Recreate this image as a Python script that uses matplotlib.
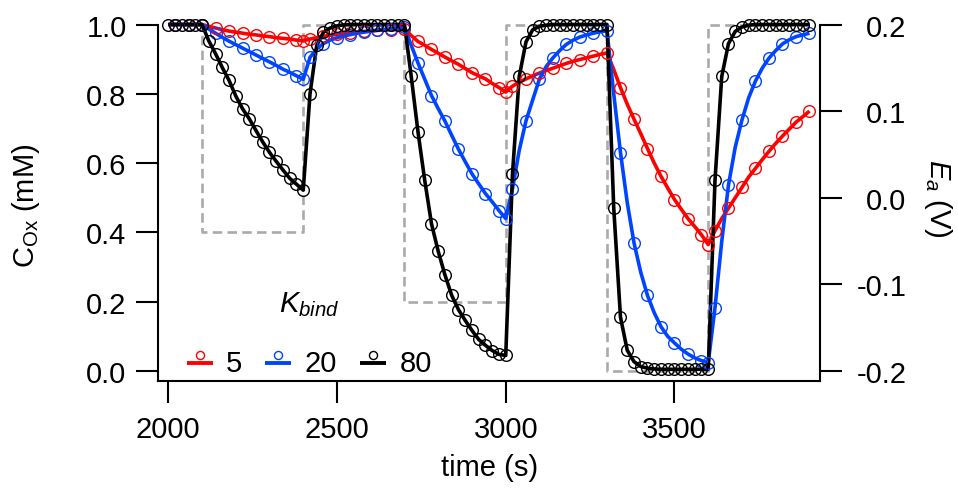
import matplotlib
matplotlib.use('Agg')
import matplotlib.pyplot as plt
from matplotlib.lines import Line2D
from matplotlib.legend_handler import HandlerBase

plt.rcParams['font.family'] = ['Liberation Sans', 'DejaVu Sans']
plt.rcParams['mathtext.fontset'] = 'custom'
plt.rcParams['mathtext.rm'] = 'Liberation Sans'
plt.rcParams['mathtext.it'] = 'Liberation Sans:italic'
plt.rcParams['mathtext.bf'] = 'Liberation Sans:bold'
plt.rcParams['axes.unicode_minus'] = False

# ---------------- data ----------------
time_s = [2000, 2020, 2040, 2060, 2080, 2100, 2120, 2140, 2160, 2180, 2200, 2220,
          2240, 2260, 2280, 2300, 2320, 2340, 2360, 2380, 2400, 2420, 2440, 2460,
          2480, 2500, 2520, 2540, 2560, 2580, 2600, 2620, 2640, 2660, 2680, 2700,
          2720, 2740, 2760, 2780, 2800, 2820, 2840, 2860, 2880, 2900, 2920, 2940,
          2960, 2980, 3000, 3020, 3040, 3060, 3080, 3100, 3120, 3140, 3160, 3180,
          3200, 3220, 3240, 3260, 3280, 3300, 3320, 3340, 3360, 3380, 3400, 3420,
          3440, 3460, 3480, 3500, 3520, 3540, 3560, 3580, 3600, 3620, 3640, 3660,
          3680, 3700, 3720, 3740, 3760, 3780, 3800, 3820, 3840, 3860, 3880, 3900]

c_k5 = [1.0, 1.0, 1.0, 1.0, 1.0, 1.0,
        0.995, 0.990, 0.985, 0.981, 0.978, 0.975, 0.972, 0.970, 0.967, 0.965, 0.962, 0.960, 0.958, 0.955, 0.953,
        0.958, 0.962, 0.966, 0.969, 0.972, 0.974, 0.976, 0.978, 0.980, 0.981, 0.983, 0.984, 0.985, 0.986, 0.987,
        0.968, 0.951, 0.940, 0.928, 0.917, 0.906, 0.895, 0.885, 0.873, 0.861, 0.852, 0.843, 0.830, 0.818, 0.805,
        0.822, 0.834, 0.843, 0.852, 0.860, 0.867, 0.874, 0.881, 0.888, 0.894, 0.899, 0.904, 0.909, 0.914, 0.918,
        0.870, 0.818, 0.770, 0.727, 0.685, 0.642, 0.600, 0.562, 0.528, 0.495, 0.467, 0.440, 0.417, 0.393, 0.365,
        0.405, 0.440, 0.470, 0.500, 0.530, 0.560, 0.585, 0.610, 0.634, 0.657, 0.678, 0.698, 0.718, 0.734, 0.750]

c_k20 = [1.0, 1.0, 1.0, 1.0, 1.0, 1.0,
         0.987, 0.975, 0.963, 0.952, 0.942, 0.932, 0.922, 0.912, 0.902, 0.892, 0.882, 0.871, 0.862, 0.852, 0.842,
         0.905, 0.930, 0.945, 0.955, 0.962, 0.967, 0.971, 0.975, 0.978, 0.981, 0.984, 0.986, 0.988, 0.990, 0.992,
         0.940, 0.889, 0.842, 0.795, 0.757, 0.721, 0.680, 0.640, 0.604, 0.569, 0.540, 0.512, 0.488, 0.463, 0.440,
         0.526, 0.637, 0.722, 0.783, 0.843, 0.879, 0.904, 0.925, 0.943, 0.955, 0.964, 0.970, 0.975, 0.979, 0.982,
         0.800, 0.630, 0.486, 0.370, 0.285, 0.218, 0.168, 0.128, 0.100, 0.081, 0.063, 0.049, 0.038, 0.030, 0.024,
         0.183, 0.374, 0.537, 0.646, 0.725, 0.789, 0.837, 0.874, 0.903, 0.925, 0.944, 0.956, 0.965, 0.970, 0.975]

c_k80 = [1.0, 1.0, 1.0, 1.0, 1.0, 1.0,
         0.953, 0.916, 0.876, 0.839, 0.794, 0.757, 0.728, 0.694, 0.661, 0.631, 0.605, 0.580, 0.556, 0.539, 0.522,
         0.800, 0.940, 0.978, 0.990, 0.996, 0.999, 1.0, 1.0, 1.0, 1.0, 1.0, 1.0, 1.0, 1.0, 1.0,
         0.850, 0.690, 0.550, 0.425, 0.345, 0.277, 0.218, 0.177, 0.146, 0.117, 0.091, 0.074, 0.059, 0.048, 0.045,
         0.570, 0.850, 0.950, 0.985, 0.995, 0.998, 1.0, 1.0, 1.0, 1.0, 1.0, 1.0, 1.0, 1.0, 1.0,
         0.470, 0.155, 0.060, 0.027, 0.013, 0.008, 0.006, 0.005, 0.005, 0.005, 0.005, 0.005, 0.005, 0.005, 0.005,
         0.550, 0.850, 0.945, 0.980, 0.993, 0.998, 1.0, 1.0, 1.0, 1.0, 1.0, 1.0, 1.0, 1.0, 1.0]

step_time = [2000, 2100, 2400, 2700, 3000, 3300, 3600, 3900]
step_E = [0.2, -0.04, 0.2, -0.12, 0.2, -0.2, 0.2, 0.2]

kbind_labels = ['5', '20', '80']
series = [c_k5, c_k20, c_k80]
colors = ['#ff0000', '#0044ff', '#000000']

# marker sampling (red/blue every 40 s plus step-end points, black every 20 s)
sparse_idx = sorted(set(list(range(1, len(time_s), 2)) + [20, 50, 80]))
mark_idx = [sparse_idx, sparse_idx, list(range(len(time_s)))]

# ---------------- figure ----------------
fig = plt.figure(figsize=(9.58, 4.89), dpi=100)
ax = fig.add_axes([0.1652, 0.2198, 0.6907, 0.7495])
ax2 = ax.twinx()
ax.set_zorder(ax2.get_zorder() + 1)
ax.patch.set_visible(False)

ylo, yhi = -0.0274, 1.0303
ax.set_ylim(ylo, yhi)
ax2.set_ylim(-0.2 + 0.4 * ylo, -0.2 + 0.4 * yhi)
ax.set_xlim(1970.4, 3931)

# applied potential (dashed)
ax2.plot(step_time, step_E, drawstyle='steps-post', color='#aaaaaa', lw=1.9,
         dashes=(3.6, 2.0), zorder=1)

for ys, col, midx in zip(series, colors, mark_idx):
    ax.plot(time_s, ys, color=col, lw=2.6, zorder=2, solid_capstyle='butt')
    ax.plot([time_s[i] for i in midx], [ys[i] for i in midx], ls='none', marker='o',
            ms=8.4, mfc='none', mec=col, mew=1.0, zorder=3, clip_on=False)

# spines
for s in ['top', 'right']:
    ax.spines[s].set_visible(False)
for s in ['top', 'left', 'bottom']:
    ax2.spines[s].set_visible(False)
ax.spines['left'].set_bounds(ylo, 1.0)
ax2.spines['right'].set_bounds(-0.2 + 0.4 * ylo, 0.2)
for sp in [ax.spines['left'], ax.spines['bottom'], ax2.spines['right']]:
    sp.set_linewidth(1.5)

ax.set_xticks([2000, 2500, 3000, 3500])
ax.set_yticks([0.0, 0.2, 0.4, 0.6, 0.8, 1.0])
ax.set_yticklabels(['0.0', '0.2', '0.4', '0.6', '0.8', '1.0'])
ax2.set_yticks([-0.2, -0.1, 0.0, 0.1, 0.2])
ax2.set_yticklabels(['-0.2', '-0.1', '0.0', '0.1', '0.2'])

ax.tick_params(axis='both', direction='out', length=15.8, width=1.5, labelsize=21)
ax.tick_params(axis='x', pad=9)
ax.tick_params(axis='y', pad=7)
ax2.tick_params(axis='y', direction='out', length=15.8, width=1.5, labelsize=21, pad=46.5)
for t in ax2.yaxis.get_major_ticks():
    t.label2.set_horizontalalignment('right')

ax.set_xlabel('time (s)', fontsize=21)
ax.xaxis.set_label_coords(0.5, -0.236)
ax.xaxis.label.set_va('center')
ax.set_ylabel(r'C$_{\mathrm{Ox}}$ (mM)', fontsize=21)
ax.yaxis.label.set_va('center')
ax.yaxis.set_label_coords(-0.200, 0.48)
ax2.set_ylabel(r'$E_a$ (V)', fontsize=21, rotation=-90)
ax2.yaxis.label.set_va('center')
ax2.yaxis.label.set_ha('center')
ax2.yaxis.set_label_coords(1.178, 0.50)


class MarkerAboveLine(HandlerBase):
    def create_artists(self, legend, orig_handle, xdescent, ydescent, width, height,
                       fontsize, trans):
        col = orig_handle.get_color()
        x0 = -xdescent
        yc = -ydescent + height * 0.4
        line = Line2D([x0, x0 + width], [yc, yc], color=col, lw=2.8, solid_capstyle='butt')
        mk = Line2D([x0 + width / 2], [yc + 5.5], ls='none', marker='o', ms=5.8,
                    mfc='none', mec=col, mew=1.0)
        line.set_transform(trans)
        mk.set_transform(trans)
        return [line, mk]


handles = [Line2D([], [], color=c) for c in colors]
leg = ax.legend(handles, kbind_labels, ncol=3, title=r'$K_{bind}$', frameon=False,
                fontsize=21, title_fontsize=21, loc='lower left',
                bbox_to_anchor=(0.043, 0.01), borderaxespad=0, borderpad=0,
                handlelength=0.89, handletextpad=0.45, columnspacing=0.80,
                labelspacing=1.05,
                handler_map={Line2D: MarkerAboveLine()})

fig.savefig('out.png', dpi=100)
